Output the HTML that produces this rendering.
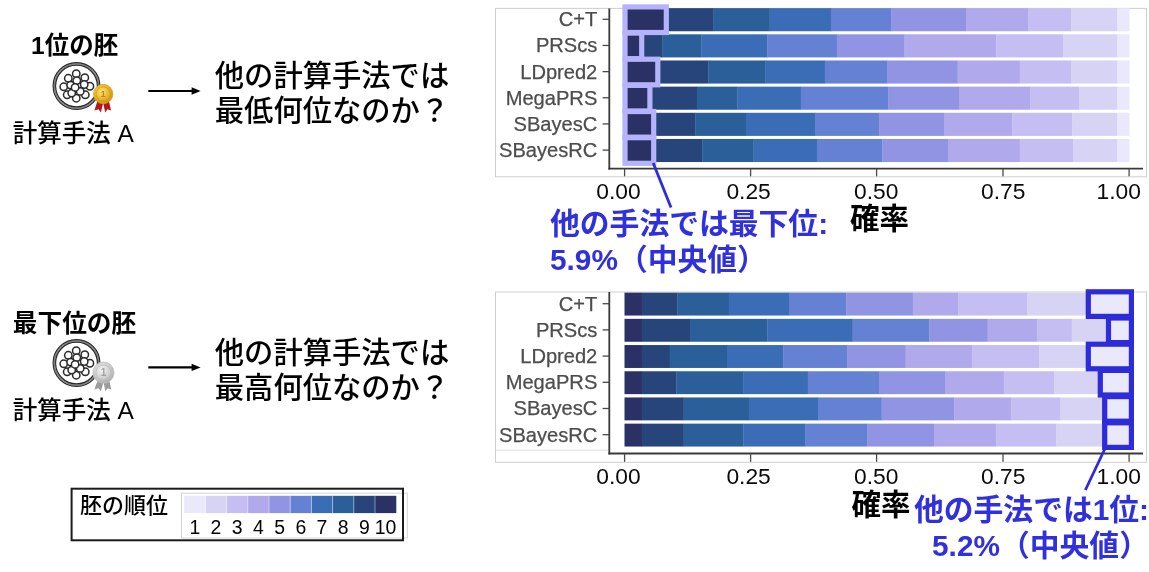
<!DOCTYPE html>
<html lang="ja"><head><meta charset="utf-8"><title>胚の順位</title>
<style>html,body{margin:0;padding:0;background:#fff}body{width:1149px;height:572px;overflow:hidden;position:relative}svg{position:absolute;left:0;top:0;display:block}svg text{font-family:"Liberation Sans", "Noto Sans CJK JP", sans-serif}.b{font-weight:700}.m{font-weight:500}.blue{fill:#3030DC}</style></head><body>
<svg width="1149" height="572" viewBox="0 0 1149 572">
<defs>
<radialGradient id="gold" cx="42%" cy="38%" r="65%"><stop offset="0" stop-color="#FBE27A"/><stop offset="0.55" stop-color="#EDB92B"/><stop offset="1" stop-color="#C98F12"/></radialGradient>
<radialGradient id="silv" cx="42%" cy="38%" r="65%"><stop offset="0" stop-color="#F4F4F4"/><stop offset="0.55" stop-color="#D2D2D2"/><stop offset="1" stop-color="#ABABAB"/></radialGradient>
<g id="embryo">
<circle cx="76.5" cy="86" r="22.15" fill="#fff" stroke="#b4b4b4" stroke-width="3.0"/>
<circle cx="76.5" cy="86" r="23.4" fill="none" stroke="#2a2a2a" stroke-width="1.15"/>
<circle cx="76.5" cy="86" r="22.15" fill="none" stroke="#555" stroke-width="0.6"/>
<circle cx="76.5" cy="86" r="20.9" fill="none" stroke="#2a2a2a" stroke-width="1.15"/>
<circle cx="76.25" cy="73.75" r="3.7" fill="#fff" stroke="#2a2a2a" stroke-width="1.5"/>
<circle cx="68.3" cy="78.3" r="3.7" fill="#fff" stroke="#2a2a2a" stroke-width="1.5"/>
<circle cx="84.8" cy="77.7" r="3.7" fill="#fff" stroke="#2a2a2a" stroke-width="1.5"/>
<circle cx="63.75" cy="86.8" r="3.7" fill="#fff" stroke="#2a2a2a" stroke-width="1.5"/>
<circle cx="89.9" cy="86.25" r="3.7" fill="#fff" stroke="#2a2a2a" stroke-width="1.5"/>
<circle cx="67.2" cy="94.8" r="3.7" fill="#fff" stroke="#2a2a2a" stroke-width="1.5"/>
<circle cx="85.3" cy="94.8" r="3.7" fill="#fff" stroke="#2a2a2a" stroke-width="1.5"/>
<circle cx="76.25" cy="98.2" r="3.7" fill="#fff" stroke="#2a2a2a" stroke-width="1.5"/>
<circle cx="70.6" cy="85.1" r="3.7" fill="#fff" stroke="#2a2a2a" stroke-width="1.5"/>
<circle cx="84.2" cy="84.5" r="3.7" fill="#fff" stroke="#2a2a2a" stroke-width="1.5"/>
<circle cx="71.7" cy="93.1" r="3.7" fill="#fff" stroke="#2a2a2a" stroke-width="1.5"/>
<circle cx="80.2" cy="91.4" r="3.7" fill="#fff" stroke="#2a2a2a" stroke-width="1.5"/>
<circle cx="76.8" cy="80.6" r="3.7" fill="#fff" stroke="#2a2a2a" stroke-width="1.5"/>
<circle cx="75.1" cy="87.4" r="3.7" fill="#fff" stroke="#2a2a2a" stroke-width="1.5"/>
</g>
</defs>
<text class="b" x="74.6" y="53.6" text-anchor="middle" font-size="24.5" fill="#000">1位の胚</text>
<use href="#embryo"/>
<g><path d="M97.6 100.5 L94.4 110.6 L98.6 109.2 L100.9 112.6 L103.2 103 Z" fill="#B3161B"/><path d="M108.8 100.5 L111 110.4 L107.4 109.2 L105.2 112.6 L103.2 103 Z" fill="#B3161B"/><circle cx="103.2" cy="94.0" r="9.7" fill="url(#gold)" stroke="#D9A520" stroke-width="0.8"/><circle cx="103.2" cy="94.0" r="7.1" fill="none" stroke="#C8921A" stroke-width="0.8" opacity="0.8"/><text x="103.2" y="97.4" text-anchor="middle" font-size="9.5" font-weight="700" fill="#BC8818">1</text></g>
<text class="m" x="73.3" y="142.2" text-anchor="middle" font-size="24.5" fill="#000">計算手法 A</text>
<path d="M148.3 91 H193" stroke="#000" stroke-width="2.1" fill="none"/><path d="M200.6 91 L191.6 87.3 L191.6 94.7 Z" fill="#000"/>
<text x="214.8" y="86" class="m" font-size="29.3" fill="#000">他の計算手法では</text>
<text x="214.8" y="121" class="m" font-size="29.3" fill="#000">最低何位なのか？</text>
<text class="b" x="74.5" y="331.6" text-anchor="middle" font-size="24.7" fill="#000">最下位の胚</text>
<use href="#embryo" y="277"/>
<g><path d="M97.8 380 L94.4 389.6 L98.6 388.2 L100.9 391.2 L103.5 382 Z" fill="#9c9c9c"/><path d="M109.2 380 L111.2 389.4 L107.6 388.2 L105.4 391.2 L103.5 382 Z" fill="#9c9c9c"/><circle cx="103.5" cy="372.6" r="10.6" fill="url(#silv)" stroke="#c4c4c4" stroke-width="0.8"/><circle cx="103.5" cy="372.6" r="7.6" fill="none" stroke="#b4b4b4" stroke-width="0.8" opacity="0.8"/><text x="103.5" y="376.2" text-anchor="middle" font-size="10" font-weight="700" fill="#a2a2a2">1</text></g>
<text class="m" x="73.3" y="419.0" text-anchor="middle" font-size="24.5" fill="#000">計算手法 A</text>
<path d="M148.3 367.4 H193" stroke="#000" stroke-width="2.1" fill="none"/><path d="M200.6 367.4 L191.6 363.7 L191.6 371.1 Z" fill="#000"/>
<text x="214.8" y="363" class="m" font-size="29.3" fill="#000">他の計算手法では</text>
<text x="214.8" y="398" class="m" font-size="29.3" fill="#000">最高何位なのか？</text>
<rect x="181.5" y="493.2" width="225.8" height="44.8" fill="#fff" stroke="#d4d4d4" stroke-width="1"/>
<rect x="184.2" y="495.8" width="21.3" height="17.3" fill="#EAE8FB"/>
<rect x="205.4" y="495.8" width="21.3" height="17.3" fill="#D7D3F5"/>
<rect x="226.6" y="495.8" width="21.3" height="17.3" fill="#C4BEF2"/>
<rect x="247.8" y="495.8" width="21.3" height="17.3" fill="#B0A9EC"/>
<rect x="269.0" y="495.8" width="21.3" height="17.3" fill="#9094E3"/>
<rect x="290.2" y="495.8" width="21.3" height="17.3" fill="#6481D3"/>
<rect x="311.4" y="495.8" width="21.3" height="17.3" fill="#3B6CB6"/>
<rect x="332.6" y="495.8" width="21.3" height="17.3" fill="#2B5F99"/>
<rect x="353.8" y="495.8" width="21.3" height="17.3" fill="#27457B"/>
<rect x="375.0" y="495.8" width="21.3" height="17.3" fill="#2B3065"/>
<line x1="205.4" y1="495.8" x2="205.4" y2="513.1" stroke="#fff" stroke-opacity="0.45" stroke-width="1"/>
<line x1="226.6" y1="495.8" x2="226.6" y2="513.1" stroke="#fff" stroke-opacity="0.45" stroke-width="1"/>
<line x1="247.8" y1="495.8" x2="247.8" y2="513.1" stroke="#fff" stroke-opacity="0.45" stroke-width="1"/>
<line x1="269.0" y1="495.8" x2="269.0" y2="513.1" stroke="#fff" stroke-opacity="0.45" stroke-width="1"/>
<line x1="290.2" y1="495.8" x2="290.2" y2="513.1" stroke="#fff" stroke-opacity="0.45" stroke-width="1"/>
<line x1="311.4" y1="495.8" x2="311.4" y2="513.1" stroke="#fff" stroke-opacity="0.45" stroke-width="1"/>
<line x1="332.6" y1="495.8" x2="332.6" y2="513.1" stroke="#fff" stroke-opacity="0.45" stroke-width="1"/>
<line x1="353.8" y1="495.8" x2="353.8" y2="513.1" stroke="#fff" stroke-opacity="0.45" stroke-width="1"/>
<line x1="375.0" y1="495.8" x2="375.0" y2="513.1" stroke="#fff" stroke-opacity="0.45" stroke-width="1"/>
<text x="194.8" y="533.6" text-anchor="middle" font-size="19.4" fill="#000">1</text>
<text x="216.0" y="533.6" text-anchor="middle" font-size="19.4" fill="#000">2</text>
<text x="237.2" y="533.6" text-anchor="middle" font-size="19.4" fill="#000">3</text>
<text x="258.4" y="533.6" text-anchor="middle" font-size="19.4" fill="#000">4</text>
<text x="279.6" y="533.6" text-anchor="middle" font-size="19.4" fill="#000">5</text>
<text x="300.8" y="533.6" text-anchor="middle" font-size="19.4" fill="#000">6</text>
<text x="322.0" y="533.6" text-anchor="middle" font-size="19.4" fill="#000">7</text>
<text x="343.2" y="533.6" text-anchor="middle" font-size="19.4" fill="#000">8</text>
<text x="364.4" y="533.6" text-anchor="middle" font-size="19.4" fill="#000">9</text>
<text x="385.6" y="533.6" text-anchor="middle" font-size="19.4" fill="#000">10</text>
<rect x="71.6" y="488.7" width="331.4" height="51.6" fill="none" stroke="#1c1c1c" stroke-width="2"/>
<text class="m" x="80" y="512.6" font-size="22" fill="#000">胚の順位</text>
<rect x="495.5" y="8.4" width="651" height="168.4" fill="none" stroke="#cfcfcf" stroke-width="1"/>
<rect x="624.5" y="8.15" width="42.1" height="23.1" fill="#2B3065"/>
<rect x="666.3" y="8.15" width="47.5" height="23.1" fill="#27457B"/>
<rect x="713.5" y="8.15" width="56.4" height="23.1" fill="#2B5F99"/>
<rect x="769.6" y="8.15" width="61.6" height="23.1" fill="#3B6CB6"/>
<rect x="830.9" y="8.15" width="60.5" height="23.1" fill="#6481D3"/>
<rect x="891.1" y="8.15" width="75.1" height="23.1" fill="#9094E3"/>
<rect x="965.9" y="8.15" width="62.8" height="23.1" fill="#B0A9EC"/>
<rect x="1028.4" y="8.15" width="42.8" height="23.1" fill="#C4BEF2"/>
<rect x="1070.9" y="8.15" width="46.8" height="23.1" fill="#D7D3F5"/>
<rect x="1117.4" y="8.15" width="12.1" height="23.1" fill="#EAE8FB"/>
<rect x="624.5" y="34.31" width="17.5" height="23.1" fill="#2B3065"/>
<rect x="641.7" y="34.31" width="20.7" height="23.1" fill="#27457B"/>
<rect x="662.1" y="34.31" width="39.4" height="23.1" fill="#2B5F99"/>
<rect x="701.2" y="34.31" width="66.4" height="23.1" fill="#3B6CB6"/>
<rect x="767.3" y="34.31" width="69.8" height="23.1" fill="#6481D3"/>
<rect x="836.8" y="34.31" width="68.0" height="23.1" fill="#9094E3"/>
<rect x="904.5" y="34.31" width="92.0" height="23.1" fill="#B0A9EC"/>
<rect x="996.2" y="34.31" width="67.0" height="23.1" fill="#C4BEF2"/>
<rect x="1062.9" y="34.31" width="54.8" height="23.1" fill="#D7D3F5"/>
<rect x="1117.4" y="34.31" width="12.1" height="23.1" fill="#EAE8FB"/>
<rect x="624.5" y="60.47" width="33.6" height="23.1" fill="#2B3065"/>
<rect x="657.8" y="60.47" width="50.8" height="23.1" fill="#27457B"/>
<rect x="708.3" y="60.47" width="57.5" height="23.1" fill="#2B5F99"/>
<rect x="765.5" y="60.47" width="59.6" height="23.1" fill="#3B6CB6"/>
<rect x="824.8" y="60.47" width="62.4" height="23.1" fill="#6481D3"/>
<rect x="886.9" y="60.47" width="71.0" height="23.1" fill="#9094E3"/>
<rect x="957.6" y="60.47" width="62.4" height="23.1" fill="#B0A9EC"/>
<rect x="1019.7" y="60.47" width="51.5" height="23.1" fill="#C4BEF2"/>
<rect x="1070.9" y="60.47" width="46.8" height="23.1" fill="#D7D3F5"/>
<rect x="1117.4" y="60.47" width="12.1" height="23.1" fill="#EAE8FB"/>
<rect x="624.5" y="86.63" width="25.7" height="23.1" fill="#2B3065"/>
<rect x="649.9" y="86.63" width="47.3" height="23.1" fill="#27457B"/>
<rect x="696.9" y="86.63" width="40.8" height="23.1" fill="#2B5F99"/>
<rect x="737.4" y="86.63" width="63.7" height="23.1" fill="#3B6CB6"/>
<rect x="800.8" y="86.63" width="87.6" height="23.1" fill="#6481D3"/>
<rect x="888.1" y="86.63" width="71.7" height="23.1" fill="#9094E3"/>
<rect x="959.5" y="86.63" width="71.1" height="23.1" fill="#B0A9EC"/>
<rect x="1030.3" y="86.63" width="48.9" height="23.1" fill="#C4BEF2"/>
<rect x="1078.9" y="86.63" width="38.8" height="23.1" fill="#D7D3F5"/>
<rect x="1117.4" y="86.63" width="12.1" height="23.1" fill="#EAE8FB"/>
<rect x="624.5" y="112.79" width="29.5" height="23.1" fill="#2B3065"/>
<rect x="653.7" y="112.79" width="42.0" height="23.1" fill="#27457B"/>
<rect x="695.4" y="112.79" width="50.7" height="23.1" fill="#2B5F99"/>
<rect x="745.8" y="112.79" width="70.0" height="23.1" fill="#3B6CB6"/>
<rect x="815.5" y="112.79" width="63.9" height="23.1" fill="#6481D3"/>
<rect x="879.1" y="112.79" width="65.2" height="23.1" fill="#9094E3"/>
<rect x="944.0" y="112.79" width="68.5" height="23.1" fill="#B0A9EC"/>
<rect x="1012.2" y="112.79" width="60.2" height="23.1" fill="#C4BEF2"/>
<rect x="1072.1" y="112.79" width="45.6" height="23.1" fill="#D7D3F5"/>
<rect x="1117.4" y="112.79" width="12.1" height="23.1" fill="#EAE8FB"/>
<rect x="624.5" y="138.95" width="29.5" height="23.1" fill="#2B3065"/>
<rect x="653.7" y="138.95" width="49.0" height="23.1" fill="#27457B"/>
<rect x="702.4" y="138.95" width="51.0" height="23.1" fill="#2B5F99"/>
<rect x="753.1" y="138.95" width="64.1" height="23.1" fill="#3B6CB6"/>
<rect x="816.9" y="138.95" width="65.6" height="23.1" fill="#6481D3"/>
<rect x="882.2" y="138.95" width="66.6" height="23.1" fill="#9094E3"/>
<rect x="948.5" y="138.95" width="71.5" height="23.1" fill="#B0A9EC"/>
<rect x="1019.7" y="138.95" width="53.6" height="23.1" fill="#C4BEF2"/>
<rect x="1073.0" y="138.95" width="44.7" height="23.1" fill="#D7D3F5"/>
<rect x="1117.4" y="138.95" width="12.1" height="23.1" fill="#EAE8FB"/>
<rect x="625" y="6.90" width="41.3" height="25.6" fill="none" stroke="#B5B3F9" stroke-width="5.2"/>
<rect x="625" y="33.06" width="16.7" height="25.6" fill="none" stroke="#B5B3F9" stroke-width="5.2"/>
<rect x="625" y="59.22" width="32.8" height="25.6" fill="none" stroke="#B5B3F9" stroke-width="5.2"/>
<rect x="625" y="85.38" width="24.9" height="25.6" fill="none" stroke="#B5B3F9" stroke-width="5.2"/>
<rect x="625" y="111.54" width="28.7" height="25.6" fill="none" stroke="#B5B3F9" stroke-width="5.2"/>
<rect x="625" y="137.70" width="28.7" height="25.6" fill="none" stroke="#B5B3F9" stroke-width="5.2"/>
<line x1="609.3" y1="8.4" x2="609.3" y2="169.6" stroke="#3a3a3a" stroke-width="1.8"/>
<line x1="608.4" y1="168.7" x2="1143" y2="168.7" stroke="#3a3a3a" stroke-width="1.8"/>
<line x1="602.6" y1="19.30" x2="609" y2="19.30" stroke="#4a4a4a" stroke-width="1.3"/>
<text x="597.3" y="26.20" text-anchor="end" font-size="20.1" fill="#4d4d4d" stroke="#4d4d4d" stroke-width="0.25">C+T</text>
<line x1="602.6" y1="45.46" x2="609" y2="45.46" stroke="#4a4a4a" stroke-width="1.3"/>
<text x="597.3" y="52.36" text-anchor="end" font-size="20.1" fill="#4d4d4d" stroke="#4d4d4d" stroke-width="0.25">PRScs</text>
<line x1="602.6" y1="71.62" x2="609" y2="71.62" stroke="#4a4a4a" stroke-width="1.3"/>
<text x="597.3" y="78.52" text-anchor="end" font-size="20.1" fill="#4d4d4d" stroke="#4d4d4d" stroke-width="0.25">LDpred2</text>
<line x1="602.6" y1="97.78" x2="609" y2="97.78" stroke="#4a4a4a" stroke-width="1.3"/>
<text x="597.3" y="104.68" text-anchor="end" font-size="20.1" fill="#4d4d4d" stroke="#4d4d4d" stroke-width="0.25">MegaPRS</text>
<line x1="602.6" y1="123.94" x2="609" y2="123.94" stroke="#4a4a4a" stroke-width="1.3"/>
<text x="597.3" y="130.84" text-anchor="end" font-size="20.1" fill="#4d4d4d" stroke="#4d4d4d" stroke-width="0.25">SBayesC</text>
<line x1="602.6" y1="150.10" x2="609" y2="150.10" stroke="#4a4a4a" stroke-width="1.3"/>
<text x="597.3" y="157.00" text-anchor="end" font-size="20.1" fill="#4d4d4d" stroke="#4d4d4d" stroke-width="0.25">SBayesRC</text>
<line x1="624.6" y1="168.7" x2="624.6" y2="176.3" stroke="#4a4a4a" stroke-width="1.3"/>
<text x="618.5" y="198.6" text-anchor="middle" font-size="22.8" fill="#0a0a0a">0.00</text>
<line x1="750.6" y1="168.7" x2="750.6" y2="176.3" stroke="#4a4a4a" stroke-width="1.3"/>
<text x="748.6" y="198.6" text-anchor="middle" font-size="22.8" fill="#0a0a0a">0.25</text>
<line x1="876.6" y1="168.7" x2="876.6" y2="176.3" stroke="#4a4a4a" stroke-width="1.3"/>
<text x="876.3" y="198.6" text-anchor="middle" font-size="22.8" fill="#0a0a0a">0.50</text>
<line x1="1003.0" y1="168.7" x2="1003.0" y2="176.3" stroke="#4a4a4a" stroke-width="1.3"/>
<text x="1003.2" y="198.6" text-anchor="middle" font-size="22.8" fill="#0a0a0a">0.75</text>
<line x1="1129.1" y1="168.7" x2="1129.1" y2="176.3" stroke="#4a4a4a" stroke-width="1.3"/>
<text x="1118.8" y="198.6" text-anchor="middle" font-size="22.8" fill="#0a0a0a">1.00</text>
<line x1="653.2" y1="163" x2="671" y2="207.5" stroke="#2E2BD8" stroke-width="2.8"/>
<text class="b" x="850" y="229" font-size="29.5" fill="#000">確率</text>
<text class="b blue" x="550" y="234" font-size="29.8">他の手法では最下位:</text>
<text class="b blue" x="550" y="270" font-size="29.8">5.9%（中央値）</text>
<rect x="495.5" y="292.0" width="651" height="170.3" fill="none" stroke="#cfcfcf" stroke-width="1"/>
<line x1="495.5" y1="450.1" x2="609" y2="450.1" stroke="#dedede" stroke-width="1"/>
<rect x="624.5" y="292.65" width="17.5" height="22.9" fill="#2B3065"/>
<rect x="641.7" y="292.65" width="35.9" height="22.9" fill="#27457B"/>
<rect x="677.3" y="292.65" width="51.8" height="22.9" fill="#2B5F99"/>
<rect x="728.8" y="292.65" width="60.5" height="22.9" fill="#3B6CB6"/>
<rect x="789.0" y="292.65" width="57.6" height="22.9" fill="#6481D3"/>
<rect x="846.3" y="292.65" width="66.8" height="22.9" fill="#9094E3"/>
<rect x="912.8" y="292.65" width="45.7" height="22.9" fill="#B0A9EC"/>
<rect x="958.2" y="292.65" width="69.4" height="22.9" fill="#C4BEF2"/>
<rect x="1027.3" y="292.65" width="61.3" height="22.9" fill="#D7D3F5"/>
<rect x="1088.3" y="292.65" width="41.4" height="22.9" fill="#EAE8FB"/>
<rect x="624.5" y="318.85" width="17.5" height="22.9" fill="#2B3065"/>
<rect x="641.7" y="318.85" width="48.5" height="22.9" fill="#27457B"/>
<rect x="689.9" y="318.85" width="77.7" height="22.9" fill="#2B5F99"/>
<rect x="767.3" y="318.85" width="85.6" height="22.9" fill="#3B6CB6"/>
<rect x="852.6" y="318.85" width="77.0" height="22.9" fill="#6481D3"/>
<rect x="929.3" y="318.85" width="58.6" height="22.9" fill="#9094E3"/>
<rect x="987.6" y="318.85" width="49.6" height="22.9" fill="#B0A9EC"/>
<rect x="1036.9" y="318.85" width="35.1" height="22.9" fill="#C4BEF2"/>
<rect x="1071.7" y="318.85" width="37.1" height="22.9" fill="#D7D3F5"/>
<rect x="1108.5" y="318.85" width="21.2" height="22.9" fill="#EAE8FB"/>
<rect x="624.5" y="345.05" width="17.5" height="22.9" fill="#2B3065"/>
<rect x="641.7" y="345.05" width="28.4" height="22.9" fill="#27457B"/>
<rect x="669.8" y="345.05" width="57.5" height="22.9" fill="#2B5F99"/>
<rect x="727.0" y="345.05" width="56.5" height="22.9" fill="#3B6CB6"/>
<rect x="783.2" y="345.05" width="64.2" height="22.9" fill="#6481D3"/>
<rect x="847.1" y="345.05" width="58.8" height="22.9" fill="#9094E3"/>
<rect x="905.6" y="345.05" width="66.5" height="22.9" fill="#B0A9EC"/>
<rect x="971.8" y="345.05" width="67.8" height="22.9" fill="#C4BEF2"/>
<rect x="1039.3" y="345.05" width="49.3" height="22.9" fill="#D7D3F5"/>
<rect x="1088.3" y="345.05" width="41.4" height="22.9" fill="#EAE8FB"/>
<rect x="624.5" y="371.25" width="17.5" height="22.9" fill="#2B3065"/>
<rect x="641.7" y="371.25" width="34.9" height="22.9" fill="#27457B"/>
<rect x="676.3" y="371.25" width="67.1" height="22.9" fill="#2B5F99"/>
<rect x="743.1" y="371.25" width="65.0" height="22.9" fill="#3B6CB6"/>
<rect x="807.8" y="371.25" width="72.0" height="22.9" fill="#6481D3"/>
<rect x="879.5" y="371.25" width="65.8" height="22.9" fill="#9094E3"/>
<rect x="945.0" y="371.25" width="59.1" height="22.9" fill="#B0A9EC"/>
<rect x="1003.8" y="371.25" width="50.8" height="22.9" fill="#C4BEF2"/>
<rect x="1054.3" y="371.25" width="46.3" height="22.9" fill="#D7D3F5"/>
<rect x="1100.3" y="371.25" width="29.4" height="22.9" fill="#EAE8FB"/>
<rect x="624.5" y="397.45" width="17.5" height="22.9" fill="#2B3065"/>
<rect x="641.7" y="397.45" width="42.2" height="22.9" fill="#27457B"/>
<rect x="683.6" y="397.45" width="65.5" height="22.9" fill="#2B5F99"/>
<rect x="748.8" y="397.45" width="69.5" height="22.9" fill="#3B6CB6"/>
<rect x="818.0" y="397.45" width="63.9" height="22.9" fill="#6481D3"/>
<rect x="881.6" y="397.45" width="72.9" height="22.9" fill="#9094E3"/>
<rect x="954.2" y="397.45" width="56.9" height="22.9" fill="#B0A9EC"/>
<rect x="1010.8" y="397.45" width="49.9" height="22.9" fill="#C4BEF2"/>
<rect x="1060.4" y="397.45" width="44.6" height="22.9" fill="#D7D3F5"/>
<rect x="1104.7" y="397.45" width="25.0" height="22.9" fill="#EAE8FB"/>
<rect x="624.5" y="423.65" width="17.5" height="22.9" fill="#2B3065"/>
<rect x="641.7" y="423.65" width="42.2" height="22.9" fill="#27457B"/>
<rect x="683.6" y="423.65" width="60.0" height="22.9" fill="#2B5F99"/>
<rect x="743.3" y="423.65" width="62.1" height="22.9" fill="#3B6CB6"/>
<rect x="805.1" y="423.65" width="62.6" height="22.9" fill="#6481D3"/>
<rect x="867.4" y="423.65" width="66.9" height="22.9" fill="#9094E3"/>
<rect x="934.0" y="423.65" width="62.1" height="22.9" fill="#B0A9EC"/>
<rect x="995.8" y="423.65" width="60.7" height="22.9" fill="#C4BEF2"/>
<rect x="1056.2" y="423.65" width="48.8" height="22.9" fill="#D7D3F5"/>
<rect x="1104.7" y="423.65" width="25.0" height="22.9" fill="#EAE8FB"/>
<rect x="1088.3" y="291.80" width="43.1" height="24.6" fill="#EAE8FB" stroke="#2E2BD8" stroke-width="5.2"/>
<rect x="1108.5" y="318.00" width="22.9" height="24.6" fill="#EAE8FB" stroke="#2E2BD8" stroke-width="5.2"/>
<rect x="1088.3" y="344.20" width="43.1" height="24.6" fill="#EAE8FB" stroke="#2E2BD8" stroke-width="5.2"/>
<rect x="1100.3" y="370.40" width="31.1" height="24.6" fill="#EAE8FB" stroke="#2E2BD8" stroke-width="5.2"/>
<rect x="1104.7" y="396.60" width="26.7" height="24.6" fill="#EAE8FB" stroke="#2E2BD8" stroke-width="5.2"/>
<rect x="1104.7" y="422.80" width="26.7" height="24.6" fill="#EAE8FB" stroke="#2E2BD8" stroke-width="5.2"/>
<line x1="609.3" y1="292.0" x2="609.3" y2="454.4" stroke="#3a3a3a" stroke-width="1.8"/>
<line x1="608.4" y1="453.5" x2="1143" y2="453.5" stroke="#3a3a3a" stroke-width="1.8"/>
<line x1="602.6" y1="303.70" x2="609" y2="303.70" stroke="#4a4a4a" stroke-width="1.3"/>
<text x="597.3" y="310.60" text-anchor="end" font-size="20.1" fill="#4d4d4d" stroke="#4d4d4d" stroke-width="0.25">C+T</text>
<line x1="602.6" y1="329.90" x2="609" y2="329.90" stroke="#4a4a4a" stroke-width="1.3"/>
<text x="597.3" y="336.80" text-anchor="end" font-size="20.1" fill="#4d4d4d" stroke="#4d4d4d" stroke-width="0.25">PRScs</text>
<line x1="602.6" y1="356.10" x2="609" y2="356.10" stroke="#4a4a4a" stroke-width="1.3"/>
<text x="597.3" y="363.00" text-anchor="end" font-size="20.1" fill="#4d4d4d" stroke="#4d4d4d" stroke-width="0.25">LDpred2</text>
<line x1="602.6" y1="382.30" x2="609" y2="382.30" stroke="#4a4a4a" stroke-width="1.3"/>
<text x="597.3" y="389.20" text-anchor="end" font-size="20.1" fill="#4d4d4d" stroke="#4d4d4d" stroke-width="0.25">MegaPRS</text>
<line x1="602.6" y1="408.50" x2="609" y2="408.50" stroke="#4a4a4a" stroke-width="1.3"/>
<text x="597.3" y="415.40" text-anchor="end" font-size="20.1" fill="#4d4d4d" stroke="#4d4d4d" stroke-width="0.25">SBayesC</text>
<line x1="602.6" y1="434.70" x2="609" y2="434.70" stroke="#4a4a4a" stroke-width="1.3"/>
<text x="597.3" y="441.60" text-anchor="end" font-size="20.1" fill="#4d4d4d" stroke="#4d4d4d" stroke-width="0.25">SBayesRC</text>
<line x1="624.6" y1="453.5" x2="624.6" y2="461.8" stroke="#4a4a4a" stroke-width="1.3"/>
<text x="618.5" y="484.0" text-anchor="middle" font-size="22.8" fill="#0a0a0a">0.00</text>
<line x1="750.6" y1="453.5" x2="750.6" y2="461.8" stroke="#4a4a4a" stroke-width="1.3"/>
<text x="748.6" y="484.0" text-anchor="middle" font-size="22.8" fill="#0a0a0a">0.25</text>
<line x1="876.6" y1="453.5" x2="876.6" y2="461.8" stroke="#4a4a4a" stroke-width="1.3"/>
<text x="876.3" y="484.0" text-anchor="middle" font-size="22.8" fill="#0a0a0a">0.50</text>
<line x1="1003.0" y1="453.5" x2="1003.0" y2="461.8" stroke="#4a4a4a" stroke-width="1.3"/>
<text x="1003.2" y="484.0" text-anchor="middle" font-size="22.8" fill="#0a0a0a">0.75</text>
<line x1="1129.1" y1="453.5" x2="1129.1" y2="461.8" stroke="#4a4a4a" stroke-width="1.3"/>
<text x="1118.8" y="484.0" text-anchor="middle" font-size="22.8" fill="#0a0a0a">1.00</text>
<line x1="1104.8" y1="449" x2="1085.4" y2="490" stroke="#2E2BD8" stroke-width="2.8"/>
<text class="b" x="851.5" y="514.5" font-size="29.5" fill="#000">確率</text>
<text class="b blue" x="1031.5" y="520" text-anchor="middle" font-size="29.8">他の手法では1位:</text>
<text class="b blue" x="1040.5" y="555.5" text-anchor="middle" font-size="29.8">5.2%（中央値）</text>
</svg></body></html>
